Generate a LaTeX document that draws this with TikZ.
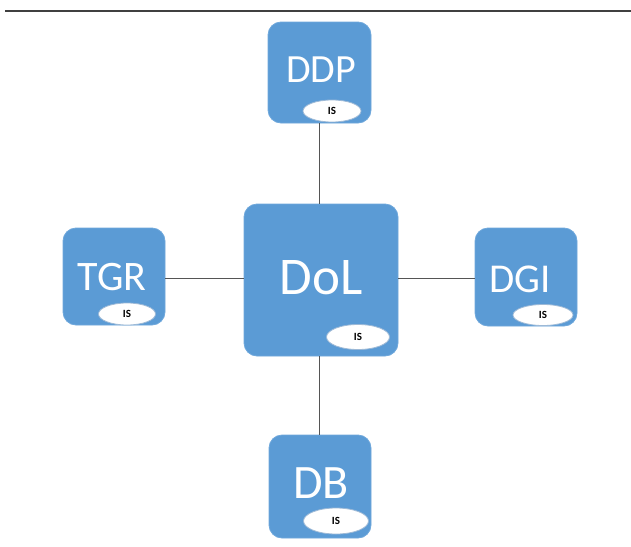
\documentclass[tikz,border=0pt]{standalone}
\usepackage{fontspec}
\setmainfont{Carlito}
\usetikzlibrary{shapes.geometric}
\definecolor{boxblue}{HTML}{5B9BD5}
\definecolor{boxedge}{HTML}{6FA8DC}
\definecolor{elledge}{HTML}{9DB9D6}
\definecolor{linegray}{HTML}{555555}
\tikzset{
  sysbox/.style={draw=boxedge, line width=0.8pt, fill=boxblue, rounded corners=13pt, inner sep=0pt},
  lbl/.style={text=white, inner sep=0pt, font=\fontsize{#1}{#1}\selectfont},
  isell/.style={ellipse, draw=elledge, line width=0.8pt, fill=white, inner sep=0pt, font=\fontsize{11}{11}\selectfont\bfseries, text=black},
  link/.style={draw=linegray, line width=0.9pt}
}
\begin{document}
\begin{tikzpicture}[x=1pt,y=-1pt]
\useasboundingbox (0,0) rectangle (631,546);
\fill[white] (0,0) rectangle (631,546);
\coordinate (tl) at (5,11);
\coordinate (tr) at (631,11);
\draw[draw=black!75, line width=1.3pt] (tl) -- (tr);
% boxes
\node[sysbox, minimum width=103pt, minimum height=101pt] (ddp) at (319.5,72.5) {};
\node[sysbox, minimum width=102pt, minimum height=97pt] (tgr) at (114,276.5) {};
\node[sysbox, minimum width=154pt, minimum height=152pt] (dol) at (321,280) {};
\node[sysbox, minimum width=102pt, minimum height=98pt] (dgi) at (526,277) {};
\node[sysbox, minimum width=102pt, minimum height=103pt] (db) at (320,486.5) {};
% labels
\node[lbl=40] (ddpt) at (321,70) {DDP};
\node[lbl=42] (tgrt) at (112,277) {TGR};
\node[lbl=53] (dolt) at (321,278) {DoL};
\node[lbl=41] (dgit) at (520,279) {DGI};
\node[lbl=48] (dbt) at (321,483) {DB};
% IS ellipses
\node[isell, minimum width=58pt, minimum height=22pt] (ddpis) at (332,111) {IS};
\node[isell, minimum width=57pt, minimum height=22pt] (tgris) at (127,314) {IS};
\node[isell, minimum width=63pt, minimum height=25pt] (dolis) at (358,337) {IS};
\node[isell, minimum width=60pt, minimum height=21pt] (dgiis) at (543,315) {IS};
\node[isell, minimum width=65pt, minimum height=26pt] (dbis) at (336,521) {IS};
% connectors
\draw[link] (ddp.south -| 319,0) -- (dol.north -| 319,0);
\draw[link] (dol.south -| 319,0) -- (db.north -| 319,0);
\draw[link] (tgr.east |- 0,278) -- (dol.west |- 0,278);
\draw[link] (dol.east |- 0,278) -- (dgi.west |- 0,278);
\end{tikzpicture}
\end{document}
